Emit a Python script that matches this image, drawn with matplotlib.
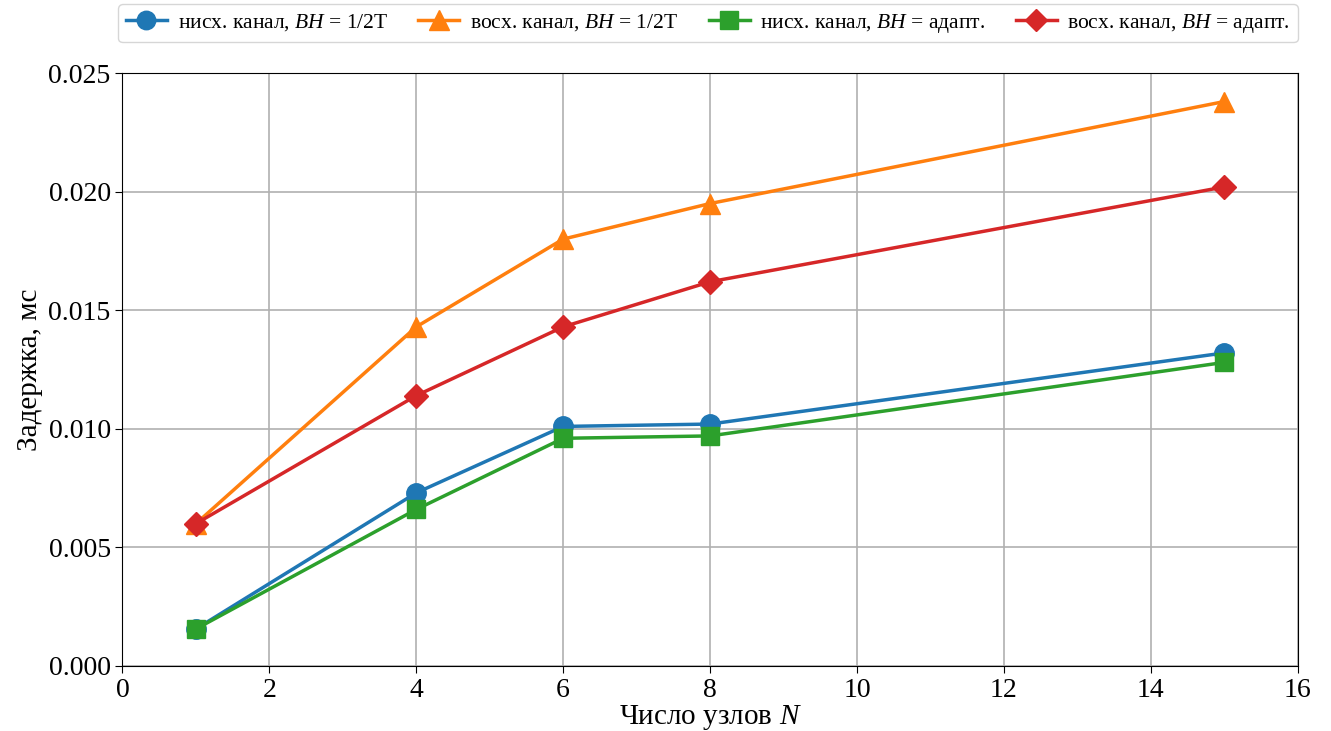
import matplotlib.pyplot as plt

# Число узлов N
nodes = [1, 4, 6, 8, 15]

# Задержка, мс
down_half = [0.00156, 0.0073, 0.0101, 0.0102, 0.0132]
up_half = [0.0060, 0.0143, 0.0180, 0.0195, 0.0238]
down_adapt = [0.00156, 0.0066, 0.0096, 0.0097, 0.0128]
up_adapt = [0.0060, 0.0114, 0.0143, 0.0162, 0.0202]

labels = [
    'нисх. канал, $BH$ = 1/2Т',
    'восх. канал, $BH$ = 1/2Т',
    'нисх. канал, $BH$ = адапт.',
    'восх. канал, $BH$ = адапт.',
]

plt.rcParams['font.family'] = ['Liberation Serif', 'DejaVu Serif']
plt.rcParams['mathtext.fontset'] = 'custom'
plt.rcParams['mathtext.it'] = 'Liberation Serif:italic'
plt.rcParams['mathtext.rm'] = 'Liberation Serif'

fig, ax = plt.subplots(figsize=(13.31, 7.31), dpi=100)
fig.subplots_adjust(left=0.092, right=0.975, top=0.9, bottom=0.089)

series = [down_half, up_half, down_adapt, up_adapt]
styles = [('#1f77b4', 'o', 14), ('#ff7f0e', '^', 15), ('#2ca02c', 's', 13), ('#d62728', 'D', 12)]
for vals, (color, marker, ms), label in zip(series, styles, labels):
    ax.plot(nodes, vals, color=color, marker=marker, markersize=ms,
            linewidth=2.5, label=label)

ax.set_xlim(0, 16)
ax.set_ylim(0, 0.025)
ax.set_xticks(range(0, 17, 2))
ax.set_yticks([0, 0.005, 0.010, 0.015, 0.020, 0.025])
ax.set_yticklabels(['0.000', '0.005', '0.010', '0.015', '0.020', '0.025'])
ax.tick_params(labelsize=20, length=5)
ax.grid(True, color='#b0b0b0', linewidth=1.2)
ax.set_xlabel('Число узлов $N$', fontsize=21, labelpad=0)
ax.set_ylabel('Задержка, мс', fontsize=21)

ax.legend(loc='lower left', bbox_to_anchor=(-0.0034, 1.052, 1.0034, 0.05), mode='expand',
          ncol=4, fontsize=15.5, handlelength=1.9, handletextpad=0.5, markerscale=0.95,
          borderpad=0.35, borderaxespad=0, frameon=True)

plt.savefig('out.png', dpi=100)
